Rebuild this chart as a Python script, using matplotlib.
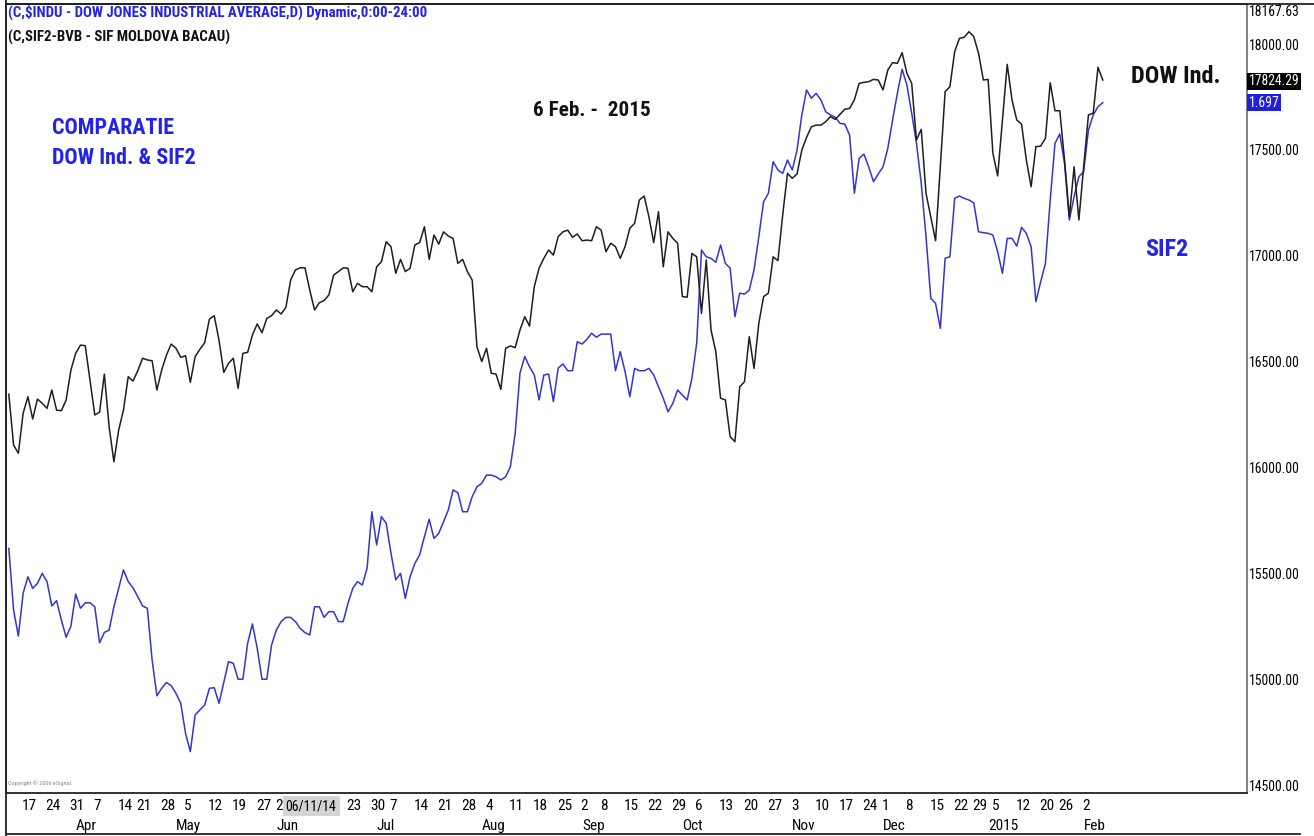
import matplotlib
matplotlib.use('Agg')
import matplotlib.pyplot as plt
from matplotlib.lines import Line2D
import pandas as pd

plt.rcParams['font.family'] = ['Roboto Condensed', 'Liberation Sans Narrow',
                               'Liberation Sans', 'DejaVu Sans']

# NYSE closed days inside the window (eSignal skips them on the x axis)
holidays = ['2014-04-18', '2014-05-26', '2014-07-04', '2014-09-01',
            '2014-11-27', '2014-12-25', '2015-01-01', '2015-01-19']
first_day = '2014-03-12'
last_day = '2015-02-06'

# DOW Jones closes, x = trading session number counted from 12 Mar 2014
dow_day = (list(range(174)) + list(range(175, 193)) + [194]
           + list(range(196, 208)) + list(range(209, 230)))
dow_close = [
    16346, 16106, 16067, 16256, 16334, 16229, 16323, 16303, 16279, 16366,
    16271, 16268, 16319, 16460, 16539, 16578, 16575, 16413, 16248, 16261,
    16441, 16193, 16027, 16177, 16271, 16429, 16408, 16457, 16516, 16508,
    16504, 16366, 16460, 16531, 16583, 16563, 16520, 16528, 16402, 16523,
    16558, 16589, 16701, 16717, 16602, 16449, 16492, 16516, 16374, 16539,
    16544, 16626, 16678, 16636, 16704, 16717, 16744, 16725, 16756, 16885,
    16933, 16943, 16943, 16838, 16744, 16778, 16788, 16815, 16909, 16925,
    16943, 16941, 16830, 16870, 16854, 16854, 16830, 16948, 16972, 17066,
    17043, 16917, 16983, 16925, 16941, 17051, 17062, 17137, 16983, 17098,
    17055, 17113, 17093, 17082, 16964, 16983, 16925, 16885, 16570, 16500,
    16563, 16445, 16441, 16369, 16563, 16574, 16566, 16649, 16712, 16668,
    16854, 16941, 16988, 17027, 17003, 17090, 17113, 17121, 17087, 17103,
    17071, 17074, 17071, 17137, 17121, 17019, 17059, 17043, 16988, 17043,
    17130, 17153, 17263, 17282, 17184, 17062, 17208, 16948, 17113, 17082,
    17059, 16807, 16804, 17011, 16995, 16728, 16980, 16649, 16547, 16327,
    16319, 16145, 16122, 16381, 16405, 16618, 16468, 16681, 16807, 16823,
    16995, 16977, 17192, 17389, 17366, 17386, 17499, 17559, 17609, 17617,
    17617, 17633, 17657, 17644,
    17692, 17696, 17736, 17814, 17819, 17822, 17833, 17830, 17783, 17877,
    17912, 17909, 17959, 17862, 17814, 17547, 17597, 17295,
    17071,
    17775, 17798, 17964, 18027, 18032, 18058, 18035, 17956, 17830, 17833,
    17484, 17377,
    17904, 17736, 17641, 17622, 17452, 17326, 17515, 17518, 17555, 17817,
    17685, 17685, 17452, 17184, 17420, 17169, 17420, 17665, 17673, 17890,
    17830,
]

# SIF2 overlay, as drawn on the DOW price scale, one value per session
sif2_overlay = [
    15618, 15327, 15204, 15406, 15484, 15429, 15453, 15500, 15461, 15346,
    15371, 15280, 15198, 15251, 15402, 15335, 15361, 15361, 15342, 15172,
    15221, 15232, 15342, 15429, 15516, 15461, 15432, 15390, 15346, 15335,
    15091, 14922, 14957, 14985, 14969, 14933, 14886, 14744, 14658, 14831,
    14855, 14878, 14957, 14960, 14886, 14985, 15083, 15075, 15000, 15000,
    15170, 15261, 15146, 15000, 15000, 15161, 15232, 15272, 15292, 15292,
    15272, 15240, 15220, 15209, 15342, 15342, 15292, 15319, 15319, 15272,
    15272, 15358, 15429, 15461, 15445, 15524, 15791, 15634, 15768, 15736,
    15596, 15469, 15500, 15382, 15484, 15547, 15587, 15673, 15755, 15665,
    15689, 15744, 15799, 15894, 15881, 15791, 15791, 15862, 15909, 15925,
    15964, 15964, 15956, 15941, 15956, 16004, 16161, 16445, 16524, 16476,
    16437, 16319, 16437, 16441, 16311, 16469, 16489, 16457, 16457, 16594,
    16583, 16605, 16634, 16615, 16630, 16630, 16630, 16457, 16547, 16453,
    16334, 16468, 16457, 16457, 16468, 16437, 16381, 16327, 16263, 16303,
    16366, 16342, 16319, 16421, 16588, 17027, 16995, 16988, 16969, 17051,
    16964, 16941, 16712, 16823, 16819, 16838, 16933, 17090, 17255, 17295,
    17444, 17405, 17389, 17452, 17405, 17499, 17665, 17783, 17744, 17767,
    17736, 17680, 17665, 17654, 17625, 17622, 17570, 17295, 17460, 17480,
    17420, 17350, 17386, 17420, 17507, 17641, 17767, 17881, 17806, 17673,
    17531, 17342, 17090, 16799, 16775, 16657, 16988, 16995, 17271, 17282,
    17271, 17263, 17250, 17113, 17109, 17106, 17098, 17019, 16917, 17082,
    17082, 17046, 17134, 17106, 17043, 16783, 16877, 16964, 17263, 17531,
    17575, 17436, 17169, 17279, 17373, 17397, 17594, 17665, 17704, 17723,
]

dow_last = 17824.29
dow_high = 18167.63
sif2_last_label = '1.697'
y_ticks = [14500, 15000, 15500, 16000, 16500, 17000, 17500, 18000]
cursor_date = '2014-06-11'
hidden_week_labels = ['2014-06-09', '2014-06-16']

BLUE_LINE = '#3434cf'
BLUE_TEXT = '#2222e8'

sessions = pd.bdate_range(first_day, last_day)
sessions = sessions[~sessions.isin(pd.to_datetime(holidays))]

W, H = 1314, 836
fig = plt.figure(figsize=(W / 100, H / 100), dpi=100)
fig.patch.set_facecolor('white')
ax = fig.add_axes([6 / W, 1 - 792.7 / H, (1246.7 - 6) / W, (792.7 - 4) / H])

ax.plot(range(len(sif2_overlay)), sif2_overlay, color=BLUE_LINE, lw=1.1)
ax.plot(dow_day, dow_close, color='#1e1e1e', lw=1.1)

ax.set_xlim(-0.586, 259.13)
ax.set_ylim(14464, 18189)
ax.set_xticks([])
ax.yaxis.tick_right()
ax.set_yticks(y_ticks)
ax.set_yticklabels([f'{v:.2f}' for v in y_ticks])
ax.tick_params(axis='y', length=0, pad=1.5, labelsize=9.8)
for side in ['left', 'top', 'bottom']:
    ax.spines[side].set_color('#222222')
    ax.spines[side].set_linewidth(1.3)
ax.spines['right'].set_color('#777777')
ax.spines['right'].set_linewidth(1.3)

# right-scale extra labels
ax.annotate(f'{dow_high:.2f}', xy=(1, dow_high), xycoords=('axes fraction', 'data'),
            xytext=(1.5, -2.5), textcoords='offset points', ha='left', va='center',
            fontsize=9.8, annotation_clip=False)
ax.annotate(f'{dow_last:.2f}', xy=(1, dow_last), xycoords=('axes fraction', 'data'),
            xytext=(1.5, 0), textcoords='offset points', ha='left', va='center',
            fontsize=9.8, color='white', annotation_clip=False,
            bbox=dict(boxstyle='square,pad=0.12', fc='black', ec='none'))
ax.annotate(sif2_last_label, xy=(1, sif2_overlay[-1]), xycoords=('axes fraction', 'data'),
            xytext=(1.5, 0), textcoords='offset points', ha='left', va='center',
            fontsize=9.8, color='white', annotation_clip=False,
            bbox=dict(boxstyle='square,pad=0.12', fc='#1f1fe0', ec='none'))

# date axis: first session of each week, month names under them
for i, d in enumerate(sessions):
    if i > 0 and d.isocalendar()[1] != sessions[i - 1].isocalendar()[1]:
        if d.strftime('%Y-%m-%d') in hidden_week_labels:
            continue
        ax.annotate(str(d.day), xy=(i, 0), xycoords=('data', 'axes fraction'),
                    xytext=(-1, -9.8), textcoords='offset points',
                    ha='left', va='center', fontsize=11, annotation_clip=False)
    if i > 0 and d.month != sessions[i - 1].month:
        name = '2015' if d.month == 1 else d.strftime('%b')
        ax.annotate(name, xy=(i, 0), xycoords=('data', 'axes fraction'),
                    xytext=(0, -24.2), textcoords='offset points',
                    ha='left', va='center', fontsize=11, annotation_clip=False)

cursor_i = list(sessions.strftime('%Y-%m-%d')).index(cursor_date)
ax.annotate(pd.Timestamp(cursor_date).strftime('%m/%d/%y'), xy=(cursor_i, 0),
            xycoords=('data', 'axes fraction'), xytext=(1, -9.8),
            textcoords='offset points', ha='center', va='center', fontsize=10,
            annotation_clip=False,
            bbox=dict(boxstyle='square,pad=0.22', fc='#d4d4d4', ec='none'))


def at(px, py):
    return ((px - 6) / 1240.7, 1 - (py - 4) / 788.7)


ax.text(*at(8, 12), '(C,$INDU - DOW JONES INDUSTRIAL AVERAGE,D) Dynamic,0:00-24:00',
        transform=ax.transAxes, ha='left', va='center', fontsize=10.7,
        fontweight='bold', color=BLUE_TEXT)
ax.text(*at(8, 37), '(C,SIF2-BVB - SIF MOLDOVA BACAU)', transform=ax.transAxes,
        ha='left', va='center', fontsize=10.7, fontweight='bold', color='#111111')
ax.text(*at(52, 128), 'COMPARATIE', transform=ax.transAxes, ha='left', va='center',
        fontsize=15.8, fontweight='bold', color=BLUE_TEXT)
ax.text(*at(52, 158), 'DOW Ind. & SIF2', transform=ax.transAxes, ha='left', va='center',
        fontsize=15.8, fontweight='bold', color=BLUE_TEXT)
ax.text(*at(533, 111), '6 Feb. -  2015', transform=ax.transAxes, ha='left', va='center',
        fontsize=15.2, fontweight='bold', color='#111111')
ax.text(*at(1131, 77), 'DOW Ind.', transform=ax.transAxes, ha='left', va='center',
        fontsize=17.5, fontweight='bold', color='#111111')
ax.text(*at(1145, 250), 'SIF2', transform=ax.transAxes, ha='left', va='center',
        fontsize=17.5, fontweight='bold', color=BLUE_TEXT)
ax.text(*at(8, 783), 'Copyright \u00a9 2006 eSignal.', transform=ax.transAxes,
        ha='left', va='center', fontsize=4.5, color='#888888')

# frame of the whole chart window
fig.add_artist(Line2D([6 / W, 6 / W], [0, 1], transform=fig.transFigure,
                      color='#222222', lw=1.3))
fig.add_artist(Line2D([6 / W, 1], [1 - 4 / H, 1 - 4 / H], transform=fig.transFigure,
                      color='#222222', lw=1.3))
fig.add_artist(Line2D([6 / W, 1300 / W], [1 - 834 / H, 1 - 834 / H],
                      transform=fig.transFigure, color='#222222', lw=1.3))

fig.savefig('out.png', dpi=100)
